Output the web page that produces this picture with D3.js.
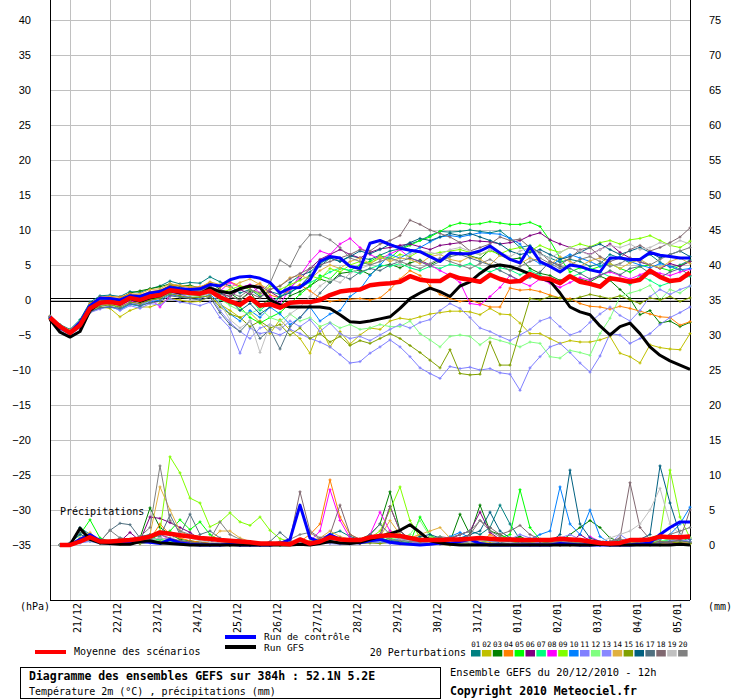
<!DOCTYPE html>
<html>
<head>
<meta charset="utf-8">
<script src="https://cdn.jsdelivr.net/npm/d3@7/dist/d3.min.js"></script>
<style>
  body { margin: 0; background: #fff; }
  svg { display: block; }
  .mono { font-family: "DejaVu Sans Mono", monospace; }
</style>
</head>
<body>
<div id="chart"></div>
<script>
// GEFS ensemble, run 20/12/2010 12h, one value every 6h (0h..384h)
const hours = d3.range(0, 385, 6);
const dayLabels = ["21/12","22/12","23/12","24/12","25/12","26/12","27/12","28/12",
  "29/12","30/12","31/12","01/01","02/01","03/01","04/01","05/01"];
const leftTicks = d3.range(-35, 41, 5);
const rightTicks = d3.range(0, 76, 5);

const memberColors = ["#008080","#c0c000","#008000","#ff8000","#00ff00","#800080","#00ff80",
  "#ff00ff","#80ff00","#0080ff","#8080ff","#80ff80","#8888ff","#e0b040","#80a000",
  "#006080","#507080","#806870","#c0c0c0","#808080"];

// 2m temperature (°C)
const tempMean = [-2.5,-3.8,-4.7,-3.6,-1.2,-0.4,-0.3,-0.5,0.3,0,0.5,0.7,1.4,1.2,1.0,0.9,1.3,0.4,
  -0.2,-0.7,0.3,-0.8,-0.6,-1.1,-0.4,-0.3,-0.3,0,0.7,1.2,1.4,1.5,2.1,2.3,2.4,2.6,3.4,2.9,2.7,2.7,
  3.6,3.1,2.9,2.6,3.6,3.0,2.6,2.7,3.7,3.1,3.0,2.4,3.4,2.6,2.3,1.9,3.1,2.9,2.6,2.9,4.2,3.3,2.7,2.9,3.9];
const tempControl = [-2.4,-4.0,-4.6,-3.2,-0.8,0.3,0.2,0.0,0.6,0.5,1.0,1.2,1.8,1.6,1.5,1.6,2.2,2.0,
  2.9,3.3,3.4,3.1,2.5,1.0,1.7,1.8,2.9,5.5,6.2,6.0,4.8,4.5,8.1,8.5,7.9,7.4,7.1,6.9,6.2,5.5,
  6.7,6.6,6.6,7.0,7.7,6.7,5.8,5.3,7.6,5.5,4.8,4.0,5.0,4.8,4.3,4.0,6.0,6.0,5.8,5.8,6.8,6.4,6.2,6.0,6.0];
const tempGfs = [-2.8,-4.6,-5.3,-4.5,-1.5,-0.4,-0.2,-0.6,0.2,-0.2,0.3,0.6,1.3,1.0,1.1,0.9,1.7,1.2,
  1.0,1.6,2.0,1.8,0.0,-0.7,-1.0,-1.0,-1.0,-1.0,-1.2,-2.1,-3.1,-3.2,-3.0,-2.7,-2.4,-1.2,0.2,1.0,1.7,1.2,
  0.5,2.0,2.6,3.8,4.8,5.0,4.8,4.3,3.7,3.1,2.7,1.0,-1.0,-1.7,-2.1,-3.7,-5.0,-3.8,-3.3,-4.8,-6.7,-7.9,-8.7,-9.3,-9.9];
const tempMembers = [
  [-2.3,-3.5,-4.2,-2.8,-0.3,0.6,0.7,0.5,1.2,1.1,1.6,2.0,2.7,2.3,2.5,2.4,3.3,2.6, 2.0,1.0,1.5,0.5,1.2,0.8,2.5,
   3.5,4.0,5.2,6.0,5.5,6.3,6.0,5.8,6.4,7.0,7.3,8.0,8.5,9.2,9.8,9.7,
   9.8,10.0,9.8,9.6,9.9,8.8,7.5,7.8,6.6,6.0,5.4,5.8,5.5,4.8,5.2,6.5,6.0,5.3,5.8,6.5,5.4,4.7,5.0,5.7],
  [-2.7,-4.1,-4.9,-3.9,-1.8,-1.0,-1.2,-2.4,-1.5,-1.0,-1.0,-0.5,0.2,0.0,-0.3,-0.2,0.5,-0.6, -1.5,-2.5,-1.8,-3.2,-4.8,-2.8,-4.3,
   -5.5,-7.6,-3.8,-6.7,-4.5,-6.3,-5.0,-4.0,-4.2,-3.0,-2.6,-2.8,-2.4,-2.0,-1.8,-1.6,
   -1.6,-1.7,-2.1,-1.2,-2.0,-2.1,-3.3,-4.8,-4.8,-5.5,-6.2,-5.8,-6.0,-6.0,-5.7,-5.2,-7.6,-8.1,-9.0,-6.4,-6.8,-7.0,-7.1,-4.8],
  [-2.6,-4.0,-4.6,-3.3,-0.9,-0.1,0.1,0.2,1.0,1.3,1.6,1.9,2.3,2.0,2.1,1.7,2.5,1.5, 1.0,0.0,1.2,-1.0,0.3,-0.8,0.6,
   1.2,2.0,3.0,2.5,3.8,4.0,4.3,3.6,4.8,5.1,4.6,5.3,5.7,5.0,5.8,6.5,
   6.8,6.3,5.9,7.2,6.4,5.8,6.0,4.5,3.8,3.5,2.8,3.3,3.0,2.6,3.4,2.8,1.5,0.2,-2.1,-1.5,-3.3,-3.0,-3.8,-3.2],
  [-2.4,-3.7,-4.5,-3.3,-0.5,0.4,0.5,0.4,0.9,0.7,1.2,1.4,2.1,2.0,1.8,1.9,2.4,1.8, 2.6,2.0,1.8,2.4,0.7,0.3,1.5,
   2.2,1.3,0.3,-0.2,0.0,0.1,0.2,0.0,0.3,1.5,3.0,4.2,3.5,2.0,0.8,0.2,
   -0.2,0.0,-0.5,-1.0,-1.0,1.7,1.4,1.5,1.2,0.7,0.3,0.2,-0.5,-0.9,-1.0,-1.3,-0.9,-1.2,-1.6,-2.0,-2.4,-2.5,-3.6,-3.1],
  [-2.5,-3.9,-4.4,-3.0,-0.7,0.0,-0.4,-1.3,-0.6,-0.8,0.0,0.4,1.2,0.9,0.8,0.6,1.1,0.3, -0.5,-1.0,-2.5,-3.3,-2.5,-1.8,-0.5,
   0.8,2.0,3.5,3.0,4.5,4.2,5.0,5.5,6.3,6.0,7.2,7.8,8.5,9.0,9.8,10.6,
   11.0,10.8,10.9,11.2,11.0,10.8,10.8,11.1,10.5,8.5,6.0,4.0,4.6,4.3,4.8,5.2,4.5,4.0,4.8,5.0,4.6,4.2,4.9,5.5],
  [-2.5,-3.8,-4.8,-3.7,-1.1,-0.3,-0.1,-0.4,0.5,0.2,0.8,1.0,1.7,1.4,1.2,1.5,1.8,1.0, 0.5,1.5,0.8,2.0,1.2,0.3,1.8,
   3.0,4.5,5.8,6.5,7.2,6.5,6.0,6.8,7.3,7.5,7.8,8.0,7.6,7.2,7.8,8.0,
   8.2,8.5,8.4,8.3,8.0,8.2,8.5,9.2,9.6,8.6,8.0,7.5,7.0,6.5,7.2,8.0,6.8,6.0,5.4,5.0,4.5,5.2,4.8,5.5],
  [-2.6,-3.9,-4.5,-3.4,-1.0,-0.5,-0.2,-0.6,0.0,-0.3,0.4,0.6,1.5,1.3,0.8,0.7,1.2,0.0, -0.5,-0.8,0.2,-1.5,-0.3,0.5,1.2,
   1.8,2.5,3.2,4.0,4.6,4.2,3.8,4.5,5.0,4.8,5.2,4.6,4.2,4.8,4.5,5.1,
   4.8,5.2,4.5,4.0,4.6,4.3,3.6,4.2,3.5,3.0,2.5,3.2,3.8,4.5,4.0,3.3,3.0,2.2,3.5,2.8,2.0,2.5,3.0,3.4],
  [-2.4,-3.8,-4.4,-3.5,-1.3,-0.6,-0.4,-0.9,-0.1,-0.6,0.2,-1.0,0.6,0.9,0.3,0.5,1.0,1.3, 2.5,1.8,2.2,1.0,0.5,-0.5,1.5,
   3.5,5.5,7.0,6.5,8.0,8.8,7.5,6.5,5.8,6.6,7.2,6.0,5.5,5.0,4.2,3.5,
   2.5,-0.5,-0.7,0.5,1.8,3.5,2.6,2.0,3.0,2.4,1.8,2.5,3.2,2.8,3.6,4.0,3.5,3.0,3.6,4.2,3.8,3.5,4.0,4.4],
  [-2.5,-3.7,-4.6,-3.5,-1.0,-0.2,-0.5,-0.3,0.4,0.1,0.7,0.9,1.6,1.3,1.1,1.0,1.5,1.0, 1.5,2.0,1.5,0.8,2.0,1.5,2.2,
   2.8,3.5,3.0,4.5,4.0,5.0,5.5,5.2,6.0,5.8,6.5,6.2,7.0,6.5,6.8,7.0,
   7.2,6.8,6.5,7.0,6.6,7.2,7.5,7.0,7.8,7.2,6.8,7.5,8.0,7.6,8.2,8.5,8.0,8.6,8.8,9.2,8.5,7.8,7.5,8.4],
  [-2.6,-4.1,-4.9,-3.8,-1.6,-1.2,-1.0,-1.4,-0.6,-0.9,-0.3,0.0,0.8,0.5,0.4,0.2,0.8,-0.5, -2.0,-3.0,-1.5,-2.5,-1.0,-2.0,-3.5,
   -2.5,-1.0,-3.0,-2.0,-1.5,0.5,1.5,3.5,5.0,6.5,6.0,6.8,7.5,8.3,9.0,9.2,
   9.0,9.3,9.6,9.5,9.4,8.8,8.0,6.0,5.2,4.8,5.8,6.5,6.0,5.5,4.8,5.8,6.2,5.5,5.0,4.6,5.2,4.8,4.3,4.5],
  [-2.7,-4.2,-5.0,-4.0,-1.8,-1.3,-0.8,-1.5,-0.8,-1.2,-0.5,-0.7,0.2,-0.3,-0.5,-0.8,-0.3,-2.5, -4.0,-7.6,-4.0,-4.8,-4.5,-5.0,-4.2,
   -4.8,-5.5,-6.0,-6.7,-7.8,-9.0,-8.8,-7.6,-6.7,-5.7,-6.7,-8.1,-9.7,-10.5,-11.2,-9.5,
   -9.8,-9.6,-10.0,-9.8,-10.4,-10.6,-12.9,-9.7,-8.1,-6.7,-6.2,-7.5,-9.0,-10.3,-8.0,-4.8,-5.0,-6.2,-5.5,-4.8,-3.5,-2.5,-1.8,-1.0],
  [-2.5,-3.8,-4.6,-3.5,-1.3,-0.7,-0.6,-0.8,0.1,-0.2,0.3,0.5,1.2,1.0,0.6,0.5,1.0,0.2, -0.8,-1.5,-2.0,-1.2,-2.5,-3.0,-2.0,
   -3.0,-2.5,-3.8,-3.2,-4.0,-3.5,-4.2,-4.0,-3.5,-3.8,-3.8,-3.0,-4.8,-5.7,-6.7,-5.2,
   -5.0,-5.2,-6.4,-5.4,-5.8,-6.2,-6.7,-6.0,-6.2,-8.1,-8.3,-7.2,-7.5,-7.9,-4.8,-2.6,0.5,1.0,1.4,2.1,0.0,1.5,1.0,2.0],
  [-2.4,-3.9,-4.7,-3.6,-1.4,-0.8,-0.9,-1.2,-0.4,-0.6,-0.2,0.3,1.0,0.8,0.4,0.3,0.7,-1.5, -3.2,-4.5,-5.5,-4.0,-3.5,-4.2,-3.0,
   -3.8,-2.8,-4.5,-3.3,-4.8,-5.5,-5.2,-5.8,-5.0,-4.2,-3.5,-4.0,-3.2,-2.8,-1.5,-0.5,
   -1.2,-2.5,-4.0,-4.5,-5.2,-5.8,-5.0,-4.2,-3.0,-2.5,-3.8,-5.0,-4.5,-3.2,-2.0,-1.0,-2.2,-3.0,-1.5,0.5,1.5,0.8,1.5,2.0],
  [-2.3,-3.6,-4.3,-3.1,-0.6,0.2,0.4,0.2,0.8,0.9,1.5,1.6,2.3,2.1,1.9,1.8,2.6,2.2, 1.8,2.5,3.0,2.2,1.5,2.0,3.2,
   3.5,3.0,4.2,5.0,4.5,5.5,6.0,5.2,6.2,5.5,6.0,5.8,5.2,6.2,6.5,5.8,
   5.5,6.2,5.8,5.0,6.4,5.8,5.2,6.0,5.5,5.0,6.2,5.5,4.8,5.6,6.0,5.2,4.5,5.3,5.8,5.0,4.6,5.5,6.0,5.2],
  [-2.6,-4.0,-4.8,-3.8,-1.5,-0.9,-0.7,-1.0,-0.3,-0.5,0.0,0.2,0.9,0.6,0.3,0.4,0.6,-1.0, -2.0,-2.5,-3.8,-3.0,-4.0,-3.5,-5.0,
   -4.0,-5.5,-4.8,-6.0,-5.2,-6.5,-5.8,-6.2,-5.5,-4.8,-5.5,-6.5,-7.5,-8.6,-9.7,-7.1,
   -10.5,-10.7,-10.6,-6.0,-9.3,-9.3,-4.5,0.2,0.0,0.5,0.3,0.0,0.4,0.8,0.5,0.2,0.6,0.0,-0.5,0.3,0.0,0.5,-0.2,0.3],
  [-2.5,-3.9,-4.6,-3.4,-0.9,0.0,0.2,-0.1,0.7,0.4,1.0,1.3,2.0,1.8,1.5,1.3,2.0,1.1, 0.0,-1.5,-0.5,-2.0,-1.0,0.5,1.0,
   2.0,3.5,4.8,6.0,5.5,6.2,7.0,6.6,7.2,8.0,7.5,8.2,8.8,8.5,9.0,9.5,
   9.2,9.5,9.0,8.5,8.0,7.0,6.5,6.8,7.2,6.5,5.8,6.2,6.8,7.5,8.0,7.2,6.5,7.0,7.5,6.8,6.0,6.5,7.0,6.2],
  [-2.6,-4.1,-4.9,-3.9,-1.7,-1.1,-1.0,-1.2,-0.5,-0.8,-0.4,-0.2,0.6,0.4,0.2,0.0,0.4,-1.8, -3.5,-4.5,-3.0,-5.5,-4.2,-7.0,-3.8,
   -2.5,-0.8,1.0,2.5,3.5,3.0,4.0,4.5,4.2,5.0,5.5,6.0,5.5,4.8,5.5,6.2,
   6.5,6.0,5.5,5.0,4.2,3.5,2.8,3.2,4.0,5.5,4.8,4.5,3.8,3.0,3.5,4.2,3.6,4.5,4.8,3.8,3.2,4.0,4.5,3.5],
  [-2.4,-3.7,-4.5,-3.4,-1.0,-0.2,0.0,-0.2,0.6,0.3,0.9,1.1,1.8,1.5,1.3,1.2,1.7,0.8, 0.5,0.0,1.0,0.3,1.5,2.0,3.0,
   3.8,4.5,5.0,5.5,6.0,6.5,7.2,7.0,8.0,8.5,9.2,11.4,10.8,10.0,9.5,9.0,
   8.2,7.0,7.5,8.0,9.0,8.5,8.7,7.5,6.8,5.5,5.0,6.0,7.2,7.5,6.2,5.5,6.0,7.2,7.8,7.0,7.5,8.2,9.0,10.3],
  [-2.5,-3.8,-4.7,-3.6,-1.1,-0.3,-0.4,-0.6,0.2,0.0,0.6,0.8,1.5,1.2,0.9,0.8,1.3,-0.5, -2.8,-4.0,-3.0,-7.5,-3.5,-4.0,-2.0,
   -1.0,0.5,2.0,3.0,2.5,3.8,4.5,5.0,5.5,6.0,5.2,6.5,7.0,6.8,6.5,7.2,
   7.5,7.0,6.5,7.2,6.8,6.2,7.0,7.5,6.5,6.0,6.8,7.5,7.0,6.4,7.2,7.8,7.5,8.0,7.2,7.5,8.2,7.8,8.5,8.0],
  [-2.4,-3.7,-4.5,-3.3,-0.8,0.1,0.0,0.0,0.7,0.5,1.1,1.2,1.9,1.7,1.4,1.3,1.9,1.4, 1.0,0.5,1.5,1.0,2.4,5.7,4.8,
   7.6,9.3,9.3,8.6,7.5,6.0,5.5,5.0,5.5,6.0,5.5,5.0,4.5,5.2,6.0,5.5,
   5.0,4.5,5.2,5.8,5.0,4.2,4.8,5.5,6.0,5.2,4.5,5.0,5.8,6.2,5.5,4.8,5.2,6.0,5.5,5.0,5.8,6.5,7.0,7.5]
];

// Precipitation (mm per 6h), from 6h to 384h
const precipHours = hours.slice(1);
const precipMean = [0,0,0.5,1.1,0.5,0.5,0.6,0.7,0.9,1.2, 1.8,1.6,1.4,1.2,1.0,0.9,0.7,0.6,0.5,0.4,
  0.2,0.2,0.2,0.1,0.8,0.2,0.5,1.1,0.8,0.7, 0.7,1.1,1.3,1.4,1.3,1.0,0.7,0.7,0.7,0.8,
  0.8,0.9,1.0,0.9,0.8,0.8,0.7,0.7,0.7,0.7, 0.9,0.8,0.7,0.5,0.3,0.2,0.3,0.7,0.7,0.8, 1.2,1.1,1.1,1.2];
const precipControl = [0,0,0.8,1.5,0.6,0.3,0.2,0.3,0.5,0.4, 0.2,0.8,0.3,0.1,0,0,0,0.1,0,0,
  0,0,0.2,0.8,5.7,1.0,0.4,1.5,0.8,0.5, 0.3,0.6,0.8,0.4,0.2,0.1,0,0.1,0.3,0.2,
  0.5,0.8,0.2,0,0,0,0,0,0,0, 0.2,0.1,0,0,0,0,0,0,0.1,0.3, 1.5,2.5,3.3,3.3];
const precipGfs = [0,0,2.4,0.8,0.3,0.2,0.1,0.1,0.5,0.6, 0.3,0.2,0.1,0,0,0,0,0,0,0,
  0,0,0,0,0.1,0,0.2,0.5,0.3,0.2, 0.4,0.8,1.2,1.6,2.1,2.9,1.8,0.6,0.3,0.1,
  0,0,0,0,0,0,0,0,0,0, 0,0,0,0,0.1,0,0,0,0,0, 0,0,0.1,0];
const precipMembers = [
  [0,0.2,2.5,1.5,0.5,0.3,1.0,0.8,1.2,1.5, 0.5,0.8,0.6,0.3,0.2,0.1,0.5,0.3,0.1,0, 0,0.2,0.5,0.3,0.8,0.2,0.5,1.5,2.0,1.2,
   0.8,0.5,1.0,0.6,0.4,0.3,0.2,0.5,0.8,1.0, 1.5,2.0,1.5,2.5,5.7,3.0,0.8,0.3,0.2,0.1, 0.3,0.5,0.2,0.1,0,0,0.1,0.3,0.2,0.5, 1.0,0.8,0.5,0.3],
  [0,0,0.8,1.5,0.3,0.2,0.1,0.3,0.2,0.5, 0.8,0.5,0.3,0.2,0.1,0,0,0.3,0.2,0.1, 0,0,0,0.2,0.3,0.5,0.2,0.8,0.5,0.3,
   0.2,0.5,1.2,2.0,1.5,0.5,0.3,0.2,0.1,0, 0.2,0.5,0.3,0,0,0.2,0.4,0.2,0,0, 0,0,0.2,0,0,0,0,0,0.2,0.3, 0.2,0.5,0.3,0.2],
  [0,0,1.0,0.6,0.3,0.5,0.8,0.6,1.0,5.3, 2.5,1.5,0.8,0.6,0.4,0.3,0.2,0.1,0,0, 0,0,0.2,0.1,0.5,0.3,0.3,0.8,0.6,0.5,
   0.8,1.5,3.0,7.6,2.0,0.8,0.5,1.2,0.8,0.5, 4.4,1.5,5.7,2.0,1.5,0.8,1.2,0.6,0.4,0.3, 0.5,1.5,2.5,3.5,2.5,1.0,0.5,0.2,0.1,0, 0,0.2,0.3,0.2],
  [0,0,0.5,1.2,0.5,0.3,0.2,0.4,0.5,0.8, 3.0,1.5,1.0,0.6,0.4,0.3,0.2,0.2,0.1,0, 0,0,0.1,0.2,0.5,1.5,3.0,9.3,4.0,1.5,
   0.8,0.6,0.5,0.4,0.8,1.0,1.5,0.8,0.4,0.3, 0.5,0.4,0.3,1.5,0.8,0.3,0.1,0,0,0, 0,0.2,0,0,0,0,0,0.1,0.2,0.3, 0.3,0.5,0.8,0.4],
  [0,0.2,1.5,3.6,1.0,0.5,0.3,0.8,0.5,0.8, 1.5,2.0,3.6,2.2,3.3,1.5,0.6,0.3,0.2,0.1, 0,0,0,0.2,0.3,0.4,0.8,0.5,0.6,0.3,
   0.5,0.8,0.6,1.0,0.5,0.3,4.0,1.5,0.5,0.3, 0.8,1.0,0.5,0.8,1.0,1.5,7.9,2.5,0.8,0.3, 0.2,0.1,0,0,0,0,0.1,0.2,0.5,0.3, 0.4,0.8,0.5,1.0],
  [0,0,0.8,1.0,0.5,0.3,0.5,1.8,0.6,4.0, 3.8,3.2,2.5,1.8,0.8,0.5,0.3,0.2,0.1,0, 0,0,0.2,0.3,0.4,0.2,0.5,0.8,1.0,0.6,
   0.5,0.8,1.5,5.5,2.0,0.8,0.6,0.5,0.4,0.8, 1.5,2.0,4.7,1.8,0.8,0.5,0.3,0.2,0.1,0.1, 0.2,0.3,1.5,0.6,0.3,0.1,0,0.2,0.3,0.2, 0.5,0.3,0.2,0.4],
  [0,0,0.6,0.8,0.4,0.3,0.2,0.3,0.5,0.6, 0.8,0.5,0.4,0.3,0.2,0.1,0.1,0,0,0, 0,0.1,0.2,0.3,0.2,0.4,0.3,0.5,0.4,0.6,
   0.8,1.0,0.6,0.4,0.3,0.5,0.6,0.8,1.2,0.5, 0.3,0.5,0.8,0.6,0.4,0.3,0.2,0.5,0.8,0.4, 0.2,0.1,0.3,0.5,0.2,0.1,0.2,0.4,0.6,0.3, 0.5,0.8,0.6,0.4],
  [0,0,0.4,0.8,0.3,0.2,0.3,0.5,0.4,1.2, 1.5,0.8,0.5,0.3,0.2,0.1,0,0.1,0,0, 0,0,0.1,0.2,0.3,0.5,2.0,7.9,3.5,1.0,
   0.5,1.5,4.7,2.0,1.0,0.5,0.3,0.2,0.5,0.8, 0.6,0.4,0.3,0.2,0.5,0.3,0.1,0,0,0, 0,0,0.1,1.2,0.5,0.2,0,0,0.1,0.2, 0.3,0.2,0.5,0.3],
  [0,0,0.5,0.8,0.4,0.6,0.5,0.4,0.6,0.8, 2.0,12.6,10.3,6.7,6.0,2.6,3.3,4.6,3.3,2.8, 4.0,2.1,0.9,0.5,0.3,0.2,0.5,0.8,0.6,0.4,
   0.5,1.0,2.0,5.0,8.3,3.5,1.0,0.6,0.4,0.3, 0.5,0.8,0.6,0.4,0.3,0.5,0.8,0.4,0.2,0.1, 0.2,0.1,0,0,0.1,0.3,0.2,0.5,0.8,1.0, 1.5,10.7,4.0,1.0],
  [0,0,0.6,1.2,0.8,0.5,0.4,0.3,0.5,0.6, 0.4,0.3,0.2,0.1,0.1,0,0,0,0,0, 0,0,0.1,0.2,0.5,0.3,0.2,0.4,0.3,0.2,
   0.3,0.5,0.4,0.6,0.8,1.0,0.6,0.5,0.8,1.2, 1.8,1.0,0.5,0.3,0.4,0.6,0.5,0.8,1.5,2.0, 8.3,3.0,1.5,5.0,1.2,0.3,0.1,0.2,0.4,0.6, 0.8,1.5,3.0,5.4],
  [0,0,0.3,0.5,0.2,0.1,0.2,0.3,0.2,0.4, 0.3,0.2,0.1,0,0,0,0,0,0,0, 0,0,0,0.1,0.2,0.1,0.3,0.2,0.1,0.1,
   0.2,0.3,0.4,0.2,0.1,0.2,0.3,0.2,0.1,0.1, 0.2,0.4,0.3,0.2,0.5,0.8,1.5,1.0,0.5,0.3, 0.2,0.1,0,0,0,0.1,0.2,0.1,0,0.1, 0.2,0.3,0.5,0.8],
  [0,0,0.4,0.6,0.3,0.2,0.3,0.4,0.3,0.5, 0.6,0.4,0.2,0.1,0,0,0,0,0,0, 0,0,0.1,0.2,0.3,0.2,0.4,0.6,0.5,0.3,
   0.4,0.6,0.5,0.8,1.0,1.5,3.5,1.2,0.6,0.4, 0.3,0.5,0.4,0.3,0.2,0.3,0.5,0.6,0.4,0.2, 0.1,0,0,0,0,0,0.2,0.4,0.3,0.5, 0.6,0.8,0.5,0.4],
  [0,0,0.3,0.6,0.4,0.2,0.3,0.2,0.4,0.3, 0.5,0.3,0.2,0.1,0,0,0,0,0,0, 0,0,0.1,0.1,0.2,0.3,0.2,0.3,0.4,0.2,
   0.3,0.4,0.6,0.5,0.3,0.2,0.4,0.3,0.2,0.3, 0.4,0.3,0.2,0.5,0.6,0.4,0.3,0.2,0.4,0.6, 1.0,1.5,0.8,0.5,0.3,0.2,1.5,0.5,0.3,0.2, 0.4,0.6,0.8,0.5],
  [0,0,1.0,1.8,0.5,0.3,0.4,0.6,0.8,1.5, 8.3,5.0,2.0,1.2,0.8,0.6,2.0,2.0,1.0,0.5, 0.2,0.1,0.3,0.5,0.4,0.6,1.0,2.0,1.2,0.8,
   0.5,0.8,1.2,3.5,1.5,0.8,1.5,2.0,2.5,1.0, 0.6,0.8,0.5,0.3,0.2,0.1,0,0,0,0, 0,0,0,0.1,0.2,0,0,0.3,0.5,0.4, 0.2,0.3,0.5,0.3],
  [0,0,0.5,0.8,0.3,0.2,0.2,0.3,0.2,0.4, 0.5,0.3,0.2,0.1,0,0,0,0,0,0, 0,0,0,0.1,0.2,0.2,0.3,0.4,0.3,0.2,
   0.2,0.3,0.2,0.4,0.3,0.2,0.1,0.2,0.3,0.2, 0.1,0.2,0.3,0.2,0.1,0.2,0.5,0.8,0.5,0.3, 0.2,0.3,0.5,0.4,0.2,0.1,0,0.1,0.2,0.3, 0.5,0.4,0.3,0.2],
  [0,0.3,1.5,1.0,0.6,0.5,0.8,0.5,0.6,0.8, 1.0,0.8,0.6,0.4,0.3,0.2,0.1,0,0,0, 0,0,0.2,0.3,0.5,0.4,0.6,0.8,1.0,0.6,
   0.5,0.8,1.0,0.6,0.5,0.8,1.2,1.5,1.0,0.8, 1.0,1.5,2.0,4.7,2.0,1.0,0.8,0.6,0.5,0.4, 1.5,10.7,3.0,1.0,0.5,0.3,0.2,0.5,0.8,1.5, 11.3,6.0,1.5,0.8],
  [0,0.2,1.8,1.2,0.5,2.1,3.1,2.9,1.0,1.5, 1.2,4.3,1.5,4.4,1.5,2.0,1.0,0.5,0.3,0.2, 0.1,0.5,1.8,0.6,0.3,0.2,0.4,0.6,0.8,0.5,
   0.6,1.5,3.0,1.5,0.8,0.6,0.5,0.4,0.6,0.8, 0.5,0.3,0.2,0.1,0.3,0.5,0.4,0.2,0.1,0, 0,0,0.1,0.3,0.2,0.5,0.8,0.5,0.3,0.2, 0.3,0.5,0.6,0.4],
  [0,0,0.6,0.8,0.4,0.3,0.5,0.6,0.8,1.0, 1.5,1.0,0.6,0.4,0.3,0.2,0.1,0,0,0, 0,0,0.3,0.8,7.6,2.0,1.0,1.5,5.7,1.5,
   0.8,0.6,1.0,5.5,2.0,0.8,0.5,0.4,0.3,0.5, 0.8,1.5,3.5,2.5,1.5,2.0,2.8,1.5,0.8,0.5, 0.3,0.2,0.1,0,0.2,0.5,1.0,8.9,2.5,0.8, 0.5,0.3,0.8,5.0],
  [0,0,0.4,0.8,0.5,0.3,0.4,0.5,0.6,0.8, 1.0,0.8,1.5,1.0,0.6,0.4,0.3,0.2,0.1,0, 0,0,0.1,0.2,0.3,0.2,0.4,0.5,0.8,0.6,
   0.8,1.0,1.5,1.2,0.8,0.6,0.5,0.4,0.5,0.6, 0.5,0.4,0.6,0.8,0.5,0.3,0.2,0.1,0,0, 0,0.1,0.2,0.3,0.5,1.0,1.5,2.0,3.0,5.0, 8.1,3.0,1.5,1.0],
  [0,0,0.8,1.0,0.5,2.1,1.0,0.8,1.2,2.5, 11.3,3.5,2.0,1.5,1.2,0.8,3.3,1.5,0.8,0.5, 0.3,0.2,0.4,0.8,1.5,1.8,0.8,1.0,0.6,0.5,
   0.8,1.0,1.5,0.8,0.6,0.5,0.4,0.8,1.2,1.0, 1.5,2.0,3.5,2.0,1.2,0.8,0.5,0.3,0.2,0.3, 0.5,0.4,0.3,0.2,0.3,0.5,0.8,0.6,0.5,0.8, 1.0,1.5,2.0,2.5]
];

// ---- scales
const x = d3.scaleLinear().domain([0, 384]).range([50, 690]);
const yT = d3.scaleLinear().domain([-35, 40]).range([545, 20]);   // temperature, left
const yP = d3.scaleLinear().domain([0, 75]).range([545, 20]);     // precipitation, right

const svg = d3.select("#chart").append("svg")
  .attr("width", 740).attr("height", 700)
  .style("background", "#fff");

// grid
const grid = svg.append("g").attr("shape-rendering", "crispEdges").attr("stroke", "#c0c0c0");
grid.selectAll("line.h").data(leftTicks).enter().append("line")
  .attr("x1", 50).attr("x2", 690)
  .attr("y1", d => yT(d)).attr("y2", d => yT(d));
grid.selectAll("line.v").data(dayLabels).enter().append("line")
  .attr("x1", (d, i) => x(12 + 24 * i)).attr("x2", (d, i) => x(12 + 24 * i))
  .attr("y1", 0).attr("y2", 600);

// axes
const axeL = d3.axisLeft(yT).tickValues(leftTicks).tickSize(0).tickPadding(19);
const axeR = d3.axisRight(yP).tickValues(rightTicks).tickSize(0).tickPadding(19);
svg.append("g").attr("transform", "translate(50,0)").call(axeL)
  .call(g => g.select(".domain").remove())
  .selectAll("text").style("font-family", "Liberation Sans, Arial, sans-serif").style("font-size", "11px").attr("fill", "#000");
svg.append("g").attr("transform", "translate(690,0)").call(axeR)
  .call(g => g.select(".domain").remove())
  .selectAll("text").style("font-family", "Liberation Sans, Arial, sans-serif").style("font-size", "11px").attr("fill", "#000");

// frame lines
const frame = svg.append("g").attr("stroke", "#000").attr("shape-rendering", "crispEdges");
frame.append("line").attr("x1", 50).attr("x2", 50).attr("y1", 0).attr("y2", 600);
frame.append("line").attr("x1", 690).attr("x2", 690).attr("y1", 0).attr("y2", 600);
frame.append("line").attr("x1", 50).attr("x2", 690).attr("y1", 600).attr("y2", 600);
// double zero line
frame.append("line").attr("x1", 50).attr("x2", 690).attr("y1", yT(0) - 2).attr("y2", yT(0) - 2);
frame.append("line").attr("x1", 50).attr("x2", 690).attr("y1", yT(0) + 1).attr("y2", yT(0) + 1);

// day labels
svg.append("g").selectAll("text").data(dayLabels).enter().append("text")
  .attr("class", "mono")
  .attr("transform", (d, i) => `translate(${x(12 + 24 * i) + 11},603) rotate(-90)`)
  .attr("text-anchor", "end")
  .style("font-size", "10px")
  .text(d => d);

svg.append("text").attr("class", "mono").attr("x", 20).attr("y", 610).style("font-size", "10px").text("(hPa)");
svg.append("text").attr("class", "mono").attr("x", 708).attr("y", 610).style("font-size", "10px").text("(mm)");
svg.append("text").attr("class", "mono").attr("x", 60).attr("y", 515).style("font-size", "10px").text("Précipitations");

// ---- series
const lineT = d3.line().x((d, i) => x(hours[i])).y(d => yT(d));
const lineP = d3.line().x((d, i) => x(precipHours[i])).y(d => yP(d));
const cross = "M-1.5,0H1.5M0,-1.5V1.5";

const members = svg.append("g");
memberColors.forEach((c, m) => {
  const g = members.append("g").attr("stroke", c).attr("fill", "none");
  g.append("path").attr("d", lineT(tempMembers[m])).attr("stroke-width", 1);
  g.append("path").attr("d", lineP(precipMembers[m])).attr("stroke-width", 1);
  g.selectAll("path.t").data(tempMembers[m]).enter().append("path")
    .attr("transform", (d, i) => `translate(${x(hours[i])},${yT(d)})`)
    .attr("d", cross);
  g.selectAll("path.p").data(precipMembers[m]).enter().append("path")
    .attr("transform", (d, i) => `translate(${x(precipHours[i])},${yP(d)})`)
    .attr("d", cross);
});

function bold(dT, dP, color, w) {
  const g = svg.append("g").attr("fill", "none").attr("stroke", color)
    .attr("stroke-width", w).attr("stroke-linejoin", "round");
  g.append("path").attr("d", lineT(dT));
  g.append("path").attr("d", lineP(dP));
}
bold(tempControl, precipControl, "#0000ff", 3);
bold(tempGfs, precipGfs, "#000000", 3);
bold(tempMean, precipMean, "#ff0000", 4.5);

// ---- legend
const leg = svg.append("g");
leg.append("line").attr("x1", 35).attr("x2", 66).attr("y1", 652).attr("y2", 652).attr("stroke", "#ff0000").attr("stroke-width", 4);
leg.append("text").attr("class", "mono").attr("x", 74).attr("y", 655).style("font-size", "10px").text("Moyenne des scénarios");
leg.append("line").attr("x1", 225).attr("x2", 256).attr("y1", 637).attr("y2", 637).attr("stroke", "#0000ff").attr("stroke-width", 4);
leg.append("text").attr("class", "mono").attr("x", 264).attr("y", 639.5).style("font-size", "9.5px").text("Run de contrôle");
leg.append("line").attr("x1", 225).attr("x2", 256).attr("y1", 647).attr("y2", 647).attr("stroke", "#000").attr("stroke-width", 4);
leg.append("text").attr("class", "mono").attr("x", 264).attr("y", 651).style("font-size", "9.5px").text("Run GFS");
leg.append("text").attr("class", "mono").attr("x", 466).attr("y", 656).attr("text-anchor", "end")
  .style("font-size", "10px").text("20 Perturbations");

const sw = leg.selectAll("g.sw").data(memberColors).enter().append("g")
  .attr("transform", (d, i) => `translate(${471 + i * 10.9},650)`);
sw.append("rect").attr("width", 9.5).attr("height", 6.5).attr("fill", d => d);
sw.append("text").attr("class", "mono").attr("x", 4.8).attr("y", -3).attr("text-anchor", "middle")
  .style("font-size", "7.5px").text((d, i) => String(i + 1).padStart(2, "0"));

// title box
svg.append("rect").attr("x", 20.5).attr("y", 667.5).attr("width", 420).attr("height", 31)
  .attr("fill", "none").attr("stroke", "#000").attr("shape-rendering", "crispEdges");
svg.append("text").attr("class", "mono").attr("x", 29).attr("y", 680)
  .style("font-size", "11.5px").style("font-weight", "bold")
  .text("Diagramme des ensembles GEFS sur 384h : 52.1N 5.2E");
svg.append("text").attr("class", "mono").attr("x", 29).attr("y", 695)
  .style("font-size", "10px").text("Température 2m (°C) , précipitations (mm)");
svg.append("text").attr("class", "mono").attr("x", 450).attr("y", 676)
  .style("font-size", "10.4px").text("Ensemble GEFS du 20/12/2010 - 12h");
svg.append("text").attr("class", "mono").attr("x", 450).attr("y", 695)
  .style("font-size", "11.5px").style("font-weight", "bold").text("Copyright 2010 Meteociel.fr");
</script>
</body>
</html>
